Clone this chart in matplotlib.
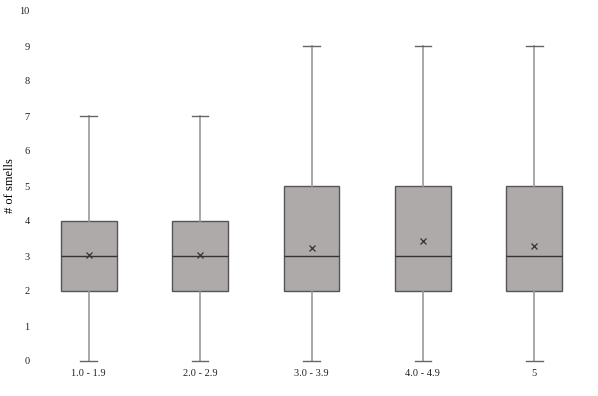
import matplotlib
matplotlib.use("Agg")
import matplotlib.pyplot as plt
import matplotlib.transforms as mtransforms

categories = ["1.0 - 1.9", "2.0 - 2.9", "3.0 - 3.9", "4.0 - 4.9", "5"]
whislo = [0, 0, 0, 0, 0]
q1 = [2, 2, 2, 2, 2]
med = [3, 3, 3, 3, 3]
q3 = [4, 4, 5, 5, 5]
whishi = [7, 7, 9, 9, 9]
means = [3.02, 3.02, 3.22, 3.44, 3.30]

plt.rcParams['font.family'] = ['Liberation Serif', 'DejaVu Serif']

fig = plt.figure(figsize=(5.98, 3.96), dpi=100)
ax = fig.add_axes([33/598, 1 - 361/396, (590-33)/598, 350/396])

stats = []
for i, c in enumerate(categories):
    stats.append(dict(label=c, whislo=whislo[i], q1=q1[i], med=med[i],
                      q3=q3[i], whishi=whishi[i], mean=means[i], fliers=[]))

res = ax.bxp(stats, positions=range(1, len(categories) + 1), widths=0.5,
             showmeans=True, patch_artist=True, showfliers=False,
             boxprops=dict(facecolor='#aeaaa9', edgecolor='#555555', linewidth=1.0),
             medianprops=dict(color='#333333', linewidth=1.0),
             whiskerprops=dict(color='#999999', linewidth=1.2),
             capprops=dict(color='#666666', linewidth=1.0),
             capwidths=0.15,
             meanprops=dict(marker='x', markeredgecolor='#333333', markersize=4.5, markeredgewidth=0.9))
for key in res:
    for art in res[key]:
        art.set_clip_on(False)

ax.set_xlim(0.5, 5.5)
ax.set_ylim(0, 10)
ax.set_yticks(range(0, 11))
for s in ax.spines.values():
    s.set_visible(False)
ax.tick_params(length=0, labelsize=7.5, colors='#222222')
ax.tick_params(axis='y', pad=2.5)
ax.tick_params(axis='x', pad=6)
ax.set_ylabel("# of smells", fontsize=9)
ax.yaxis.label.set_va('center')
trans = mtransforms.blended_transform_factory(fig.transFigure, ax.transAxes)
ax.yaxis.set_label_coords(10/598, 0.5, transform=trans)

fig.savefig("out.png", dpi=100)
